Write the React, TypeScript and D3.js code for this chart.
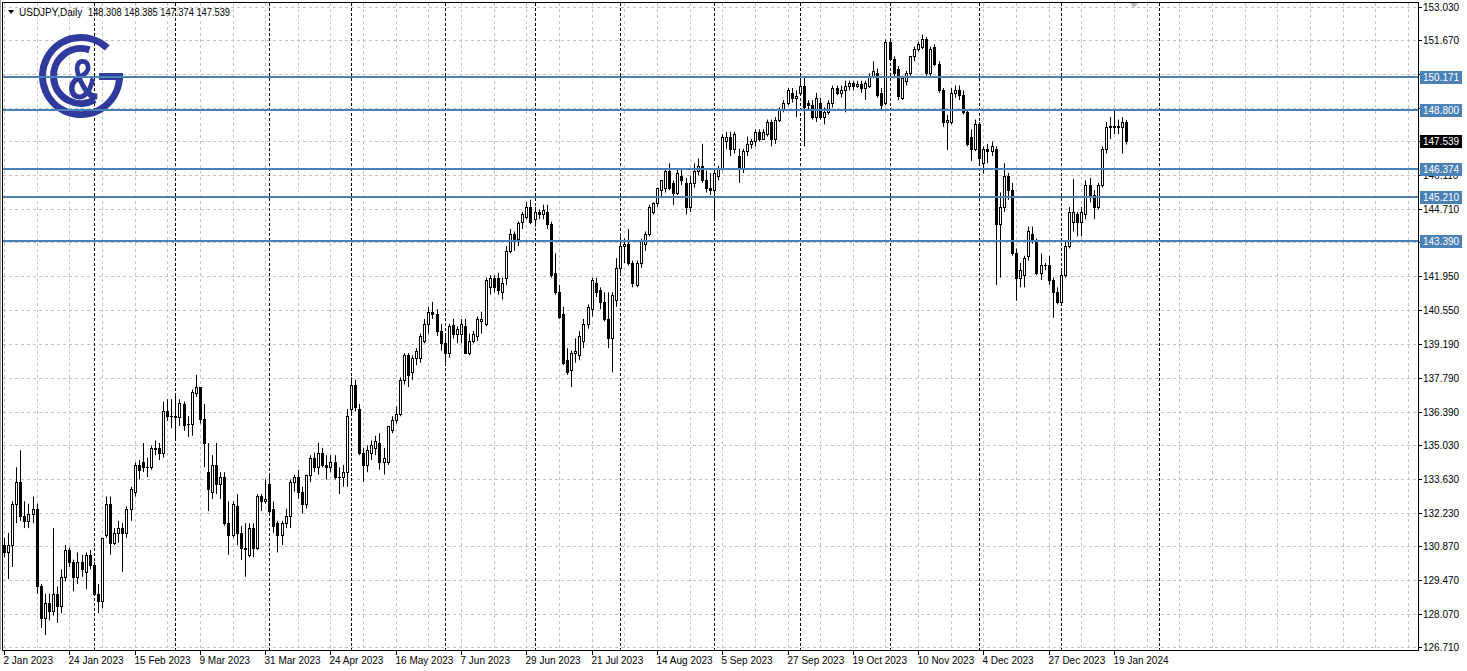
import React from "react";
import * as d3 from "d3";

type Bar = [number, number, number, number]; // open, high, low, close

// daily USDJPY candles, one array per month
const jan23: Bar[] = [
  [130.9, 131.2, 130.4, 130.6], [130.6, 131.4, 129.5, 130.9], [130.9, 132.7, 130.0, 132.6],
  [132.6, 134.1, 131.8, 133.5], [133.5, 134.8, 131.9, 132.1], [132.1, 132.7, 131.6, 131.9],
  [131.9, 132.6, 131.6, 132.2], [132.2, 132.9, 131.8, 132.4], [132.4, 132.6, 128.9, 129.2],
  [129.2, 129.3, 127.5, 127.9], [127.9, 128.9, 127.2, 128.5], [128.5, 128.9, 127.8, 128.2],
  [128.2, 131.6, 128.0, 128.9], [128.9, 129.2, 127.7, 128.4], [128.4, 129.9, 128.1, 129.6],
  [129.6, 130.9, 129.4, 130.7], [130.7, 130.8, 130.0, 130.2], [130.2, 130.3, 129.0, 129.6],
  [129.6, 130.6, 129.3, 130.2], [130.2, 130.5, 129.6, 129.9], [129.8, 130.6, 129.1, 130.5],
  [130.5, 130.7, 129.9, 130.1],
];
const feb23: Bar[] = [
  [130.1, 130.2, 128.8, 128.9], [128.9, 129.3, 128.1, 128.6], [128.6, 131.2, 128.3, 131.2],
  [131.3, 132.9, 131.2, 132.6], [132.6, 132.9, 130.5, 131.0], [131.0, 131.6, 130.9, 131.4],
  [131.4, 131.9, 131.0, 131.6], [131.6, 131.8, 129.8, 131.4], [131.4, 132.5, 131.2, 132.4],
  [132.4, 133.3, 131.9, 133.2], [133.1, 134.3, 132.9, 134.2], [134.2, 134.4, 133.6, 134.0],
  [134.3, 135.1, 133.9, 134.1], [134.1, 134.5, 133.7, 134.1], [134.1, 135.0, 134.0, 134.9],
  [134.9, 135.2, 134.6, 134.85], [134.9, 135.1, 134.4, 134.7], [134.7, 136.8, 134.5, 136.4],
  [136.4, 136.9, 136.0, 136.2], [136.2, 136.9, 135.7, 136.2],
];
const mar23: Bar[] = [
  [136.2, 137.1, 135.2, 136.15], [136.15, 136.9, 135.8, 136.75], [136.7, 136.8, 135.6, 135.85],
  [135.9, 136.2, 135.35, 135.9], [135.9, 137.3, 135.4, 137.2], [137.15, 137.9, 137.0, 137.4],
  [137.4, 137.4, 135.9, 136.1], [136.1, 136.7, 134.1, 135.1], [133.9, 135.1, 132.3, 133.2],
  [133.1, 134.6, 132.8, 134.2], [134.2, 135.1, 133.0, 133.4], [133.4, 133.9, 132.8, 133.7],
  [133.7, 133.9, 131.7, 131.8], [131.8, 132.7, 130.5, 131.3], [131.3, 132.7, 131.2, 132.6],
  [132.5, 133.0, 130.9, 131.4], [131.4, 131.7, 130.3, 130.8], [130.8, 131.8, 129.6, 130.75],
  [130.5, 131.8, 130.4, 131.6], [131.6, 131.8, 130.4, 130.8], [130.8, 133.0, 130.7, 132.9],
  [132.9, 133.0, 132.3, 132.7], [132.7, 133.6, 132.6, 132.8],
];
const apr23: Bar[] = [
  [133.4, 133.8, 132.2, 132.3], [132.4, 132.7, 131.4, 131.7], [131.8, 131.9, 130.6, 131.3],
  [131.3, 131.9, 130.9, 131.8], [131.8, 132.4, 131.6, 132.1], [132.1, 133.6, 131.6, 133.5],
  [133.5, 133.8, 133.1, 133.7], [133.7, 134.0, 132.8, 133.1], [133.1, 133.3, 132.2, 132.6],
  [132.6, 133.8, 132.4, 133.8], [133.8, 134.6, 133.5, 134.5], [134.5, 134.7, 133.9, 134.1],
  [134.1, 135.1, 133.8, 134.7], [134.7, 134.9, 134.1, 134.2], [134.2, 134.6, 133.6, 134.1],
  [134.1, 134.6, 133.9, 134.3], [134.3, 134.6, 133.6, 133.7], [133.7, 134.1, 133.0, 133.7],
  [133.7, 134.2, 133.3, 133.9], [133.9, 136.5, 133.3, 136.2],
];
const may23: Bar[] = [
  [136.5, 137.8, 136.3, 137.5], [137.5, 137.7, 136.4, 136.6], [136.5, 136.7, 134.6, 134.7],
  [134.7, 134.9, 133.5, 134.2], [134.2, 135.0, 133.9, 134.8], [134.7, 135.2, 134.4, 135.0],
  [134.9, 135.4, 134.6, 135.2], [135.1, 135.5, 134.0, 134.3], [134.3, 134.9, 133.8, 134.5],
  [134.3, 135.8, 134.2, 135.8], [135.65, 136.2, 135.5, 136.05], [136.05, 136.6, 135.9, 136.3],
  [136.3, 137.8, 136.2, 137.7], [137.7, 138.8, 137.5, 138.7], [138.7, 138.8, 137.4, 137.9],
  [138.0, 138.7, 137.7, 138.6], [138.6, 139.0, 138.3, 138.9], [138.6, 139.6, 138.4, 139.5],
  [139.3, 140.2, 139.2, 140.0], [140.0, 140.7, 139.6, 140.5], [140.5, 140.9, 140.2, 140.4],
  [140.4, 140.6, 139.5, 139.7], [139.7, 140.0, 138.9, 139.2],
];
const jun23: Bar[] = [
  [139.2, 139.5, 138.4, 138.8], [138.8, 140.0, 138.6, 139.9], [139.95, 140.2, 139.4, 139.6],
  [139.6, 139.9, 139.2, 139.8], [139.6, 140.2, 139.2, 140.0], [139.9, 140.2, 138.8, 138.8],
  [138.8, 139.6, 138.7, 139.3], [139.3, 139.7, 139.2, 139.6], [139.5, 140.3, 139.3, 140.2],
  [140.1, 140.5, 139.6, 140.2], [140.0, 141.9, 139.9, 141.8], [141.5, 142.0, 141.2, 141.9],
  [141.9, 142.0, 141.3, 141.5], [141.9, 142.1, 141.2, 141.4], [141.3, 141.9, 141.0, 141.7],
  [141.9, 143.2, 141.6, 143.0], [143.0, 143.9, 142.9, 143.7], [143.7, 143.8, 143.0, 143.5],
  [143.5, 144.2, 143.2, 144.15], [144.2, 144.6, 143.9, 144.5], [144.4, 145.0, 144.3, 144.8],
  [144.8, 145.1, 144.1, 144.2],
];
const jul23: Bar[] = [
  [144.3, 144.8, 144.0, 144.6], [144.6, 144.7, 144.3, 144.5], [144.5, 144.9, 144.3, 144.7],
  [144.6, 144.9, 143.9, 144.1], [144.1, 144.2, 141.9, 142.0], [142.1, 142.9, 141.2, 141.3],
  [141.3, 141.6, 140.2, 140.3], [140.4, 140.7, 138.3, 138.4], [138.5, 139.0, 137.9, 138.0],
  [138.1, 138.9, 137.4, 138.8], [138.8, 139.4, 138.4, 138.9], [138.7, 139.7, 138.5, 139.5],
  [139.3, 140.2, 139.0, 140.0], [140.0, 140.8, 139.8, 140.7], [140.6, 141.9, 140.3, 141.8],
  [141.7, 141.9, 141.1, 141.3], [141.4, 141.5, 140.6, 140.9], [140.9, 141.3, 140.1, 140.2],
  [140.2, 141.3, 139.0, 139.4], [139.4, 141.3, 138.0, 141.2], [141.0, 142.7, 140.7, 142.3],
];
const aug23: Bar[] = [
  [142.3, 143.6, 142.1, 143.2], [143.2, 143.5, 142.5, 143.3], [143.3, 143.9, 142.4, 142.5],
  [142.5, 142.6, 141.5, 141.7], [141.6, 142.6, 141.5, 142.5], [142.5, 143.5, 142.3, 143.4],
  [143.3, 143.8, 143.0, 143.7], [143.7, 144.9, 143.6, 144.8], [144.6, 145.0, 144.5, 144.95],
  [144.95, 145.6, 144.8, 145.6], [145.5, 145.9, 145.2, 145.9], [145.6, 146.4, 145.4, 146.3],
  [146.3, 146.6, 145.5, 145.6], [145.8, 145.9, 144.9, 145.4], [145.4, 146.4, 145.3, 146.2],
  [146.1, 146.4, 145.7, 145.9], [145.8, 146.0, 144.5, 144.8], [144.8, 146.1, 144.6, 145.8],
  [145.8, 146.6, 145.6, 146.3], [146.3, 146.8, 146.1, 146.5], [146.5, 147.4, 145.8, 145.9],
  [145.9, 146.3, 145.4, 145.6], [145.6, 146.2, 145.3, 145.5],
];
const sep23: Bar[] = [
  [145.5, 146.3, 144.3, 146.2], [146.1, 146.5, 145.9, 146.4], [146.4, 147.8, 146.3, 147.7],
  [147.5, 147.9, 147.2, 147.7], [147.7, 147.9, 146.9, 147.2], [147.2, 147.9, 147.0, 147.8],
  [146.9, 147.2, 145.8, 146.4], [146.4, 147.2, 146.2, 147.1], [147.1, 147.7, 146.9, 147.4],
  [147.4, 147.6, 147.2, 147.5], [147.5, 148.0, 147.3, 147.9], [147.9, 148.0, 147.5, 147.6],
  [147.6, 148.0, 147.6, 147.9], [147.8, 148.4, 147.7, 148.3], [148.3, 148.4, 147.3, 147.6],
  [147.6, 148.5, 147.4, 148.4], [148.4, 148.9, 148.3, 148.8], [148.8, 149.2, 148.7, 149.1],
  [149.1, 149.7, 149.0, 149.6], [149.5, 149.7, 149.1, 149.3], [149.3, 149.6, 148.5, 149.35],
];
const oct23: Bar[] = [
  [149.5, 150.0, 149.4, 149.8], [149.8, 150.15, 147.3, 148.9], [149.1, 149.2, 148.8, 149.0],
  [149.0, 149.2, 148.4, 148.5], [148.5, 149.5, 148.3, 149.3], [149.1, 149.3, 148.4, 148.5],
  [148.5, 148.9, 148.2, 148.7], [148.7, 149.2, 148.6, 149.1], [149.1, 149.8, 148.9, 149.7],
  [149.7, 149.8, 149.4, 149.5], [149.5, 149.8, 149.3, 149.6], [149.6, 150.0, 148.7, 149.8],
  [149.8, 150.0, 149.6, 149.9], [149.9, 150.0, 149.6, 149.8], [149.8, 150.0, 149.7, 149.85],
  [149.85, 150.0, 149.5, 149.7], [149.7, 150.0, 149.2, 149.9], [149.8, 150.3, 149.7, 150.2],
  [150.2, 150.8, 150.1, 150.4], [150.3, 150.5, 149.3, 149.4], [149.5, 149.7, 148.8, 149.0],
  [149.1, 151.7, 149.0, 151.6],
];
const nov23: Bar[] = [
  [151.6, 151.7, 150.8, 150.9], [150.9, 151.0, 150.1, 150.3], [150.5, 150.6, 149.2, 149.35],
  [149.3, 150.2, 149.2, 150.1], [150.0, 150.4, 149.8, 150.3], [150.3, 151.0, 150.2, 151.0],
  [151.0, 151.4, 150.8, 151.3], [151.3, 151.6, 151.2, 151.5], [151.4, 151.9, 151.3, 151.7],
  [151.7, 151.8, 150.2, 150.3], [150.3, 151.4, 150.2, 151.3], [151.4, 151.5, 150.6, 150.7],
  [150.7, 150.8, 149.5, 149.6], [149.6, 149.7, 148.1, 148.3], [148.3, 148.6, 147.15, 148.4],
  [148.3, 149.7, 148.2, 149.5], [149.5, 149.8, 149.3, 149.6], [149.6, 149.8, 149.2, 149.4],
  [149.4, 149.6, 148.6, 148.7], [148.7, 148.8, 147.3, 147.4], [147.7, 148.0, 146.7, 147.2],
  [147.2, 148.4, 147.1, 148.2],
];
const dec23: Bar[] = [
  [148.2, 148.3, 146.6, 146.8], [146.6, 147.3, 146.2, 147.2], [147.2, 147.4, 146.6, 147.1],
  [147.1, 147.5, 146.9, 147.3], [147.2, 147.3, 141.6, 144.1], [144.1, 145.4, 141.9, 144.8],
  [144.8, 146.6, 144.6, 146.1], [146.1, 146.2, 145.1, 145.5], [145.5, 145.8, 142.8, 142.9],
  [142.9, 143.1, 140.95, 141.9], [141.9, 142.5, 141.5, 142.2], [142.0, 142.8, 141.5, 142.7],
  [142.8, 144.0, 142.6, 143.8], [143.7, 144.0, 143.3, 143.5], [143.4, 143.5, 142.0, 142.1],
  [142.1, 142.9, 141.8, 142.4], [142.4, 142.5, 142.2, 142.4], [142.4, 142.8, 141.6, 141.8],
  [141.8, 141.9, 140.25, 141.3], [141.3, 141.5, 140.8, 140.9],
];
const jan24: Bar[] = [
  [140.9, 142.2, 140.8, 142.0], [142.0, 143.4, 141.9, 143.2], [143.2, 144.8, 143.1, 144.6],
  [144.2, 145.95, 143.8, 144.6], [144.5, 144.6, 143.6, 144.2], [144.2, 144.8, 143.6, 144.6],
  [144.5, 145.9, 144.3, 145.7], [145.7, 146.0, 145.0, 145.3], [145.3, 145.5, 144.3, 144.8],
  [144.8, 145.8, 144.7, 145.7], [145.7, 147.3, 145.6, 147.2], [147.2, 148.3, 147.0, 148.1],
  [148.1, 148.5, 147.6, 148.15], [148.1, 148.8, 147.8, 148.15], [148.15, 148.4, 147.8, 148.1],
  [148.1, 148.5, 147.0, 148.3], [148.308, 148.385, 147.374, 147.539],
];

const months = [jan23, feb23, mar23, apr23, may23, jun23, jul23, aug23, sep23, oct23, nov23, dec23, jan24];
const bars: Bar[] = months.flat();
const nextMonthBar = 283; // Feb 2024 separator in the empty shift area

const priceTicks = [
  "153.030", "151.670", "150.270", "148.870", "147.510", "146.110", "144.710",
  "143.350", "141.950", "140.550", "139.190", "137.790", "136.390", "135.030",
  "133.630", "132.230", "130.870", "129.470", "128.070", "126.710",
];
const timeLabels = [
  "2 Jan 2023", "24 Jan 2023", "15 Feb 2023", "9 Mar 2023", "31 Mar 2023", "24 Apr 2023",
  "16 May 2023", "7 Jun 2023", "29 Jun 2023", "21 Jul 2023", "14 Aug 2023", "5 Sep 2023",
  "27 Sep 2023", "19 Oct 2023", "10 Nov 2023", "4 Dec 2023", "27 Dec 2023", "19 Jan 2024",
];
const labelStep = 16;
const gridStep = 8;
const levels = [150.171, 148.8, 146.374, 145.21, 143.39];
const lastPrice = 147.539;
const symbol = "USDJPY,Daily";
const headerOhlc = "148.308 148.385 147.374 147.539";

const W = 1467;
const H = 671;
const left = 3;
const right = 1418;
const top = 3;
const bottom = 650;
const font = "'Liberation Sans', Arial, sans-serif";
const blue = "#4a82b8";
const logoBlue = "#2f3a9c";

const x = d3.scaleLinear().domain([0, 272]).range([4, 1114]);
const y = d3.scaleLinear().domain([126.71, 153.03]).range([647, 7]);

const arcPath = (cx: number, cy: number, r: number, a0: number, a1: number) => {
  const rad = (a: number) => (a * Math.PI) / 180;
  const p0 = [cx + r * Math.cos(rad(a0)), cy + r * Math.sin(rad(a0))];
  const p1 = [cx + r * Math.cos(rad(a1)), cy + r * Math.sin(rad(a1))];
  const large = Math.abs(a0 - a1) > 180 ? 1 : 0;
  return `M${p0[0]},${p0[1]} A${r},${r} 0 ${large} 0 ${p1[0]},${p1[1]}`;
};

const Logo = () => (
  <g>
    <path d={arcPath(81, 76, 38.5, -47, -360)} fill="none" stroke={logoBlue} strokeWidth={7} />
    <rect x={99} y={73} width={24} height={7} fill={logoBlue} />
    <path d={arcPath(81, 76, 27.5, -72, -300)} fill="none" stroke={logoBlue} strokeWidth={7} />
    <text
      x={0}
      y={0}
      transform="translate(83,99) scale(0.75,1)"
      textAnchor="middle"
      fontFamily={font}
      fontWeight="bold"
      fontSize={58}
      fill={logoBlue}
    >
      &amp;
    </text>
  </g>
);

const App = () => {
  const maxGrid = Math.floor(x.invert(right));
  const gridIdx = d3.range(0, maxGrid + 1, gridStep);
  let acc = 0;
  const sepIdx: number[] = [];
  months.forEach((m, k) => {
    if (k > 0) sepIdx.push(acc);
    acc += m.length;
  });
  sepIdx.push(nextMonthBar);

  // tick labels hidden under a price-level tag are not drawn
  const tagYs = [...levels, lastPrice].map((v) => Math.round(y(v)));
  const visibleTick = (t: string) => tagYs.every((ty) => Math.abs(ty - y(+t)) > 6);

  return (
    <svg
      width={W}
      height={H}
      style={{ position: "absolute", left: 0, top: 0, background: "#fff" }}
      fontFamily={font}
    >
      <rect x={0} y={0} width={W} height={H} fill="#fff" />
      {/* grid */}
      <g stroke="#c4c4c4" strokeDasharray="3,3" strokeWidth={1}>
        {priceTicks.map((t) => {
          const yy = Math.round(y(+t)) + 0.5;
          return <line key={t} x1={left} x2={right} y1={yy} y2={yy} />;
        })}
        {gridIdx.map((i) => {
          const xx = Math.round(x(i)) + 0.5;
          return <line key={i} x1={xx} x2={xx} y1={top} y2={bottom} />;
        })}
      </g>
      <g stroke="#000" strokeDasharray="3,2" strokeWidth={1}>
        {sepIdx.map((i) => {
          const xx = Math.round(x(i)) + 0.5;
          return <line key={i} x1={xx} x2={xx} y1={top} y2={bottom} />;
        })}
      </g>

      <Logo />

      {/* candles */}
      <g>
        {bars.map(([o, h, l, c], i) => {
          const cx = Math.round(x(i));
          const yt = Math.round(y(Math.max(o, c)));
          const yb = Math.round(y(Math.min(o, c)));
          const bull = c >= o;
          return (
            <g key={i}>
              <line x1={cx + 0.5} x2={cx + 0.5} y1={y(h)} y2={y(l)} stroke="#000" strokeWidth={1} />
              {yb - yt < 1 ? (
                <line x1={cx - 1} x2={cx + 2} y1={yt + 0.5} y2={yt + 0.5} stroke="#000" />
              ) : bull ? (
                <rect x={cx - 0.5} y={yt + 0.5} width={2} height={yb - yt} fill="#fff" stroke="#000" strokeWidth={1} />
              ) : (
                <rect x={cx - 1} y={yt} width={3} height={yb - yt + 1} fill="#000" />
              )}
            </g>
          );
        })}
      </g>

      {/* horizontal levels */}
      {levels.map((lv) => {
        const yy = Math.round(y(lv));
        return <line key={lv} x1={left} x2={right} y1={yy} y2={yy} stroke={blue} strokeWidth={2} />;
      })}

      {/* frame */}
      <line x1={0.5} x2={0.5} y1={0} y2={bottom} stroke="#a0a0a0" />
      <rect x={left - 0.5} y={top - 0.5} width={right - left + 1} height={bottom - top + 1} fill="none" stroke="#000" />

      {/* header */}
      <path d="M8,10 L14,10 L11,14 Z" fill="#000" />
      <text x={19} y={16} fontSize={10} fill="#000">
        {symbol}
      </text>
      <text x={88} y={16} fontSize={10} fill="#000" textLength={142} lengthAdjust="spacingAndGlyphs">
        {headerOhlc}
      </text>
      <path d="M1130,3 L1138,3 L1134,8 Z" fill="#bdbdbd" />

      {/* price axis */}
      {priceTicks.map((t) => {
        const yy = Math.round(y(+t)) + 0.5;
        return (
          <g key={t}>
            <line x1={right} x2={right + 4} y1={yy} y2={yy} stroke="#000" />
            {visibleTick(t) && (
              <text x={right + 5} y={yy + 3.5} fontSize={10} fill="#000">
                {t}
              </text>
            )}
          </g>
        );
      })}
      {levels.map((lv) => {
        const yy = Math.round(y(lv));
        return (
          <g key={lv}>
            <rect x={right + 2} y={yy - 6} width={42} height={13} fill={blue} />
            <text x={right + 5} y={yy + 4} fontSize={10} fill="#fff">
              {lv.toFixed(3)}
            </text>
          </g>
        );
      })}
      <rect x={right + 2} y={Math.round(y(lastPrice)) - 6} width={42} height={13} fill="#000" />
      <text x={right + 5} y={Math.round(y(lastPrice)) + 4} fontSize={10} fill="#fff">
        {lastPrice.toFixed(3)}
      </text>

      {/* time axis */}
      {timeLabels.map((t, k) => {
        const xx = Math.round(x(k * labelStep)) + 0.5;
        return (
          <g key={t}>
            <line x1={xx} x2={xx} y1={bottom} y2={bottom + 5} stroke="#000" />
            <text x={xx - 1} y={664} fontSize={10} fill="#000">
              {t}
            </text>
          </g>
        );
      })}
    </svg>
  );
};

export default App;
